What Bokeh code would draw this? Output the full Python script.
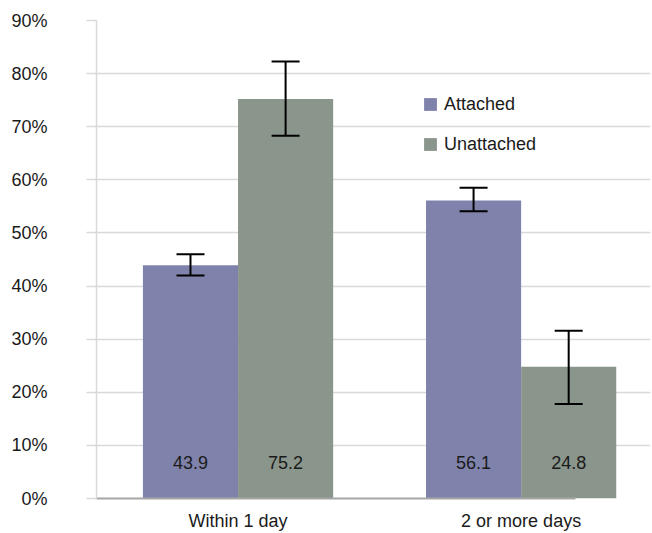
from bokeh.plotting import figure
from bokeh.models import (ColumnDataSource, Range1d, FixedTicker, PrintfTickFormatter,
                          Whisker, TeeHead, Legend, LegendItem)
from bokeh.core.properties import value
from bokeh.embed import file_html
from bokeh.resources import INLINE

# ---- data ----
categories = ["Within 1 day", "2 or more days"]
series_names = ["Attached", "Unattached"]
attached = [43.9, 56.1]
unattached = [75.2, 24.8]
attached_lower = [42.0, 54.1]
attached_upper = [46.0, 58.5]
unattached_lower = [68.3, 17.8]
unattached_upper = [82.3, 31.6]
y_ticks = [0, 10, 20, 30, 40, 50, 60, 70, 80, 90]

FONT = "Liberation Sans"
FS = "18px"
TXT = "#1a1a1a"
C_ATT = "#7f82ab"
C_UNA = "#8a958b"
GRID = "#d9d9d9"

centers = [i + 0.5 for i in range(len(categories))]
bar_w = 0.336
off = bar_w / 2

src_a = ColumnDataSource(dict(
    x=[c - off for c in centers], top=attached, lo=attached_lower, hi=attached_upper,
    lab=[f"{v:.1f}" for v in attached]))
src_u = ColumnDataSource(dict(
    x=[c + off for c in centers], top=unattached, lo=unattached_lower, hi=unattached_upper,
    lab=[f"{v:.1f}" for v in unattached]))

p = figure(width=652, height=533, output_backend="svg", toolbar_location=None,
           x_range=Range1d(0, 1.957), y_range=Range1d(0, 90),
           min_border_left=96, min_border_right=2, min_border_top=20, min_border_bottom=35)
p.outline_line_color = None
p.background_fill_color = "white"

r_a = p.vbar(x="x", top="top", width=bar_w, source=src_a, fill_color=C_ATT, line_color=None)
r_u = p.vbar(x="x", top="top", width=bar_w, source=src_u, fill_color=C_UNA, line_color=None)

for src in (src_a, src_u):
    w = Whisker(base="x", lower="lo", upper="hi", source=src, dimension="height",
                level="overlay", line_color="black", line_width=2,
                upper_head=TeeHead(size=28, line_color="black", line_width=2),
                lower_head=TeeHead(size=28, line_color="black", line_width=2))
    p.add_layout(w)
    p.text(x="x", y=6.7, text="lab", source=src, text_align="center", text_baseline="middle",
           text_font=value(FONT), text_font_size=FS, text_color=TXT)

# axes
p.xaxis.ticker = FixedTicker(ticks=centers)
p.xaxis.major_label_overrides = {c: lab for c, lab in zip(centers, categories)}
p.xaxis.major_tick_out = 0
p.xaxis.major_tick_in = 0
p.xaxis.minor_tick_line_color = None
p.xaxis.axis_line_color = "#a6a6a6"
p.xaxis.axis_line_width = 2
p.xaxis.bounds = (0, 1.693)
p.xaxis.major_label_standoff = 12
p.xaxis.major_label_text_font = FONT
p.xaxis.major_label_text_font_size = FS
p.xaxis.major_label_text_color = TXT

p.yaxis.ticker = FixedTicker(ticks=y_ticks)
p.yaxis.formatter = PrintfTickFormatter(format="%d%%")
p.yaxis.axis_line_color = GRID
p.yaxis.axis_line_width = 1.5
p.yaxis.major_tick_line_color = GRID
p.yaxis.major_tick_line_width = 1.5
p.yaxis.major_tick_out = 10
p.yaxis.major_tick_in = 0
p.yaxis.minor_tick_line_color = None
p.yaxis.major_label_standoff = 39
p.yaxis.major_label_text_font = FONT
p.yaxis.major_label_text_font_size = FS
p.yaxis.major_label_text_color = TXT

p.xgrid.grid_line_color = None
p.ygrid.grid_line_color = GRID
p.ygrid.grid_line_width = 1.5

legend = Legend(items=[LegendItem(label=series_names[0], renderers=[r_a]),
                       LegendItem(label=series_names[1], renderers=[r_u])],
                location=(326, 342), orientation="vertical",
                glyph_width=16, glyph_height=16, label_standoff=6, spacing=16,
                label_height=24,
                padding=0, margin=0, border_line_color=None, background_fill_alpha=0,
                label_text_font=FONT, label_text_font_size=FS, label_text_color=TXT)
p.add_layout(legend)

open("out.html", "w").write(file_html(p, INLINE))
